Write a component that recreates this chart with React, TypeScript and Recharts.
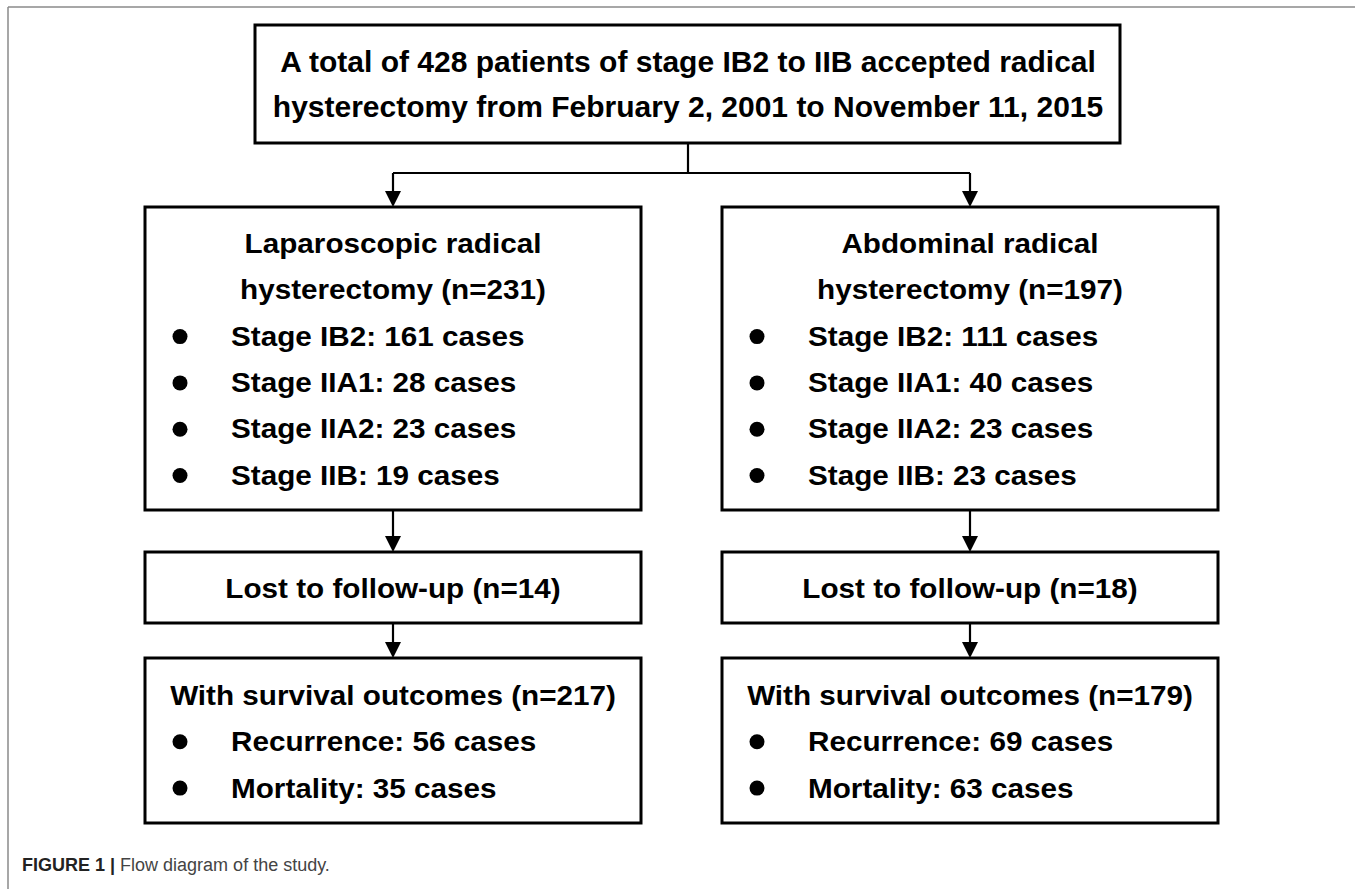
import React from "react";
import {
  ScatterChart,
  Scatter,
  XAxis,
  YAxis,
  ReferenceArea,
  ReferenceLine,
} from "recharts";

// study counts
const TOTAL_PATIENTS = 428;
const STAGE_RANGE = ["IB2", "IIB"];
const DATE_RANGE = ["February 2, 2001", "November 11, 2015"];
const GROUPS = ["Laparoscopic", "Abdominal"];
const GROUP_N = [231, 197];
const STAGES = ["IB2", "IIA1", "IIA2", "IIB"];
const LAP_STAGE_CASES = [161, 28, 23, 19];
const ABD_STAGE_CASES = [111, 40, 23, 23];
const LOST_N = [14, 18];
const SURVIVAL_N = [217, 179];
const RECURRENCE = [56, 69];
const MORTALITY = [35, 63];
const CAPTION_LABEL = "FIGURE 1 |";
const CAPTION_TEXT = "Flow diagram of the study.";

// layout (diagram units == pixels)
const W = 1355;
const H = 889;
const MID_X = 688;
const COL_X = [393, 970];
const COL_HALF = 248;
const TOP_BOX = { x1: 255, x2: 1120, y1: 25, y2: 143 };
const BRANCH_Y = 173;
const GROUP_ROW = [207, 510];
const LOST_ROW = [552, 623];
const OUTCOME_ROW = [658, 823];
const LINE_STEP = 46.3;
const BULLET_DX = 35;
const ITEM_DX = 86;
const ARROW_H = 16;

const FONT = "'Liberation Sans', Arial, Helvetica, sans-serif";
// body text in the figure is a little wider than plain Arial bold
const STRETCH = 1.06;

type TextItem = {
  x: number;
  y: number;
  text: string;
  anchor: "start" | "middle";
  size: number;
  sx: number;
};

const stageCases = [LAP_STAGE_CASES, ABD_STAGE_CASES];

const textItems: TextItem[] = [
  {
    x: MID_X,
    y: 72,
    text: `A total of ${TOTAL_PATIENTS} patients of stage ${STAGE_RANGE[0]} to ${STAGE_RANGE[1]} accepted radical`,
    anchor: "middle",
    size: 30,
    sx: 1,
  },
  {
    x: MID_X,
    y: 117,
    text: `hysterectomy from ${DATE_RANGE[0]} to ${DATE_RANGE[1]}`,
    anchor: "middle",
    size: 30,
    sx: 1,
  },
];

const bullets: { x: number; y: number }[] = [];

GROUPS.forEach((g, i) => {
  const cx = COL_X[i];
  const left = cx - COL_HALF;
  const y0 = GROUP_ROW[0] + 46;
  textItems.push({ x: cx, y: y0, text: `${g} radical`, anchor: "middle", size: 28, sx: STRETCH });
  textItems.push({
    x: cx,
    y: y0 + LINE_STEP,
    text: `hysterectomy (n=${GROUP_N[i]})`,
    anchor: "middle",
    size: 28,
    sx: STRETCH,
  });
  STAGES.forEach((s, j) => {
    const y = y0 + LINE_STEP * (j + 2);
    textItems.push({
      x: left + ITEM_DX,
      y,
      text: `Stage ${s}: ${stageCases[i][j]} cases`,
      anchor: "start",
      size: 28,
      sx: STRETCH,
    });
    bullets.push({ x: left + BULLET_DX, y: y - 9 });
  });

  textItems.push({
    x: cx,
    y: LOST_ROW[0] + 46,
    text: `Lost to follow-up (n=${LOST_N[i]})`,
    anchor: "middle",
    size: 28,
    sx: STRETCH,
  });

  const o0 = OUTCOME_ROW[0] + 47;
  textItems.push({
    x: cx,
    y: o0,
    text: `With survival outcomes (n=${SURVIVAL_N[i]})`,
    anchor: "middle",
    size: 28,
    sx: STRETCH,
  });
  [`Recurrence: ${RECURRENCE[i]} cases`, `Mortality: ${MORTALITY[i]} cases`].forEach(
    (t, j) => {
      const y = o0 + LINE_STEP * (j + 1);
      textItems.push({ x: left + ITEM_DX, y, text: t, anchor: "start", size: 28, sx: STRETCH });
      bullets.push({ x: left + BULLET_DX, y: y - 9.5 });
    }
  );
});

const arrowHeads = [
  ...COL_X.map((x) => ({ x, y: GROUP_ROW[0] })),
  ...COL_X.map((x) => ({ x, y: LOST_ROW[0] })),
  ...COL_X.map((x) => ({ x, y: OUTCOME_ROW[0] })),
];

const segments: { x: number; y: number }[][] = [
  [{ x: MID_X, y: TOP_BOX.y2 }, { x: MID_X, y: BRANCH_Y }],
  [{ x: COL_X[0], y: BRANCH_Y }, { x: COL_X[1], y: BRANCH_Y }],
  ...COL_X.flatMap((x) => [
    [{ x, y: BRANCH_Y }, { x, y: GROUP_ROW[0] - ARROW_H + 1 }],
    [{ x, y: GROUP_ROW[1] }, { x, y: LOST_ROW[0] - ARROW_H + 1 }],
    [{ x, y: LOST_ROW[1] }, { x, y: OUTCOME_ROW[0] - ARROW_H + 1 }],
  ]),
];

const boxes = [
  TOP_BOX,
  ...COL_X.flatMap((x) =>
    [GROUP_ROW, LOST_ROW, OUTCOME_ROW].map((r) => ({
      x1: x - COL_HALF,
      x2: x + COL_HALF,
      y1: r[0],
      y2: r[1],
    }))
  ),
];

const captionData = [{ x: 22, y: 871 }];

function TextShape(props: any) {
  const { cx, cy, payload } = props;
  return (
    <text
      transform={`translate(${cx},${cy}) scale(${payload.sx},1)`}
      x={0}
      y={0}
      textAnchor={payload.anchor}
      fontFamily={FONT}
      fontWeight="bold"
      fontSize={payload.size}
      fill="#000"
    >
      {payload.text}
    </text>
  );
}

function BulletShape(props: any) {
  return <circle cx={props.cx} cy={props.cy} r={7.5} fill="#000" />;
}

function ArrowShape(props: any) {
  const { cx, cy } = props;
  return (
    <polygon
      points={`${cx - 8},${cy - ARROW_H} ${cx + 8},${cy - ARROW_H} ${cx},${cy}`}
      fill="#000"
    />
  );
}

function CaptionShape(props: any) {
  return (
    <text x={props.cx} y={props.cy} fontFamily={FONT} fontSize={18}>
      <tspan fontWeight="bold" fill="#222">
        {CAPTION_LABEL}
      </tspan>
      <tspan fill="#444"> {CAPTION_TEXT}</tspan>
    </text>
  );
}

export default function App() {
  return (
    <div style={{ width: W, height: H, background: "#fff" }}>
      <style>{`body{margin:0;}`}</style>
      <ScatterChart width={W} height={H} margin={{ top: 0, right: 0, bottom: 0, left: 0 }}>
        <XAxis type="number" dataKey="x" domain={[0, W]} hide />
        <YAxis type="number" dataKey="y" domain={[0, H]} reversed hide />

        {/* figure frame: top and left rules */}
        <ReferenceLine
          segment={[{ x: 8, y: 7 }, { x: W, y: 7 }]}
          stroke="#8a8a8a"
          strokeWidth={1.5}
        />
        <ReferenceLine
          segment={[{ x: 8, y: 7 }, { x: 8, y: H }]}
          stroke="#8a8a8a"
          strokeWidth={1.5}
        />

        {boxes.map((b, i) => (
          <ReferenceArea
            key={`box-${i}`}
            x1={b.x1}
            x2={b.x2}
            y1={b.y1}
            y2={b.y2}
            fill="#fff"
            fillOpacity={1}
            stroke="#000"
            strokeWidth={3}
          />
        ))}

        {segments.map((s, i) => (
          <ReferenceLine key={`seg-${i}`} segment={s} stroke="#000" strokeWidth={2.2} />
        ))}

        <Scatter data={arrowHeads} shape={<ArrowShape />} isAnimationActive={false} />
        <Scatter data={bullets} shape={<BulletShape />} isAnimationActive={false} />
        <Scatter data={textItems} shape={<TextShape />} isAnimationActive={false} />
        <Scatter data={captionData} shape={<CaptionShape />} isAnimationActive={false} />
      </ScatterChart>
    </div>
  );
}
